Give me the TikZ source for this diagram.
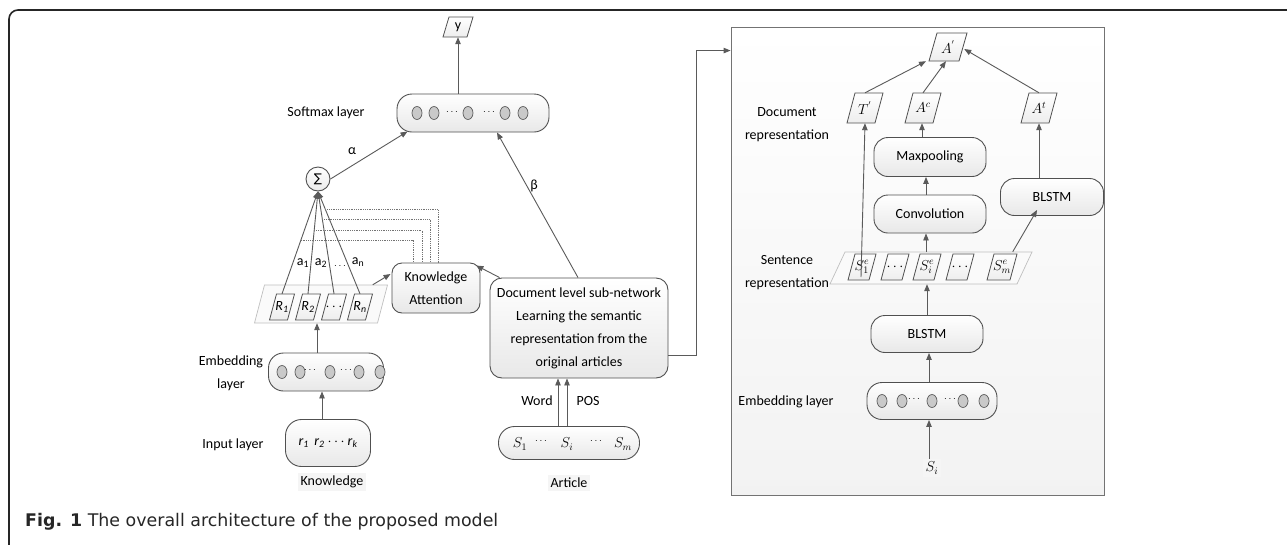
\documentclass[tikz,border=0pt]{standalone}
\usepackage{fontspec}
\setmainfont{Carlito}
\newfontfamily\capfont{DejaVu Sans}
\newfontfamily\symfont{DejaVu Sans}
\usetikzlibrary{shapes.geometric,arrows.meta,calc}

\definecolor{edge}{HTML}{505050}
\definecolor{linec}{HTML}{5A5A5A}
\definecolor{dotfill}{HTML}{C9C9C9}

\tikzset{
  every node/.style={font=\fontsize{14}{23}\selectfont, inner sep=0pt},
  lbl/.style={align=center},
  rbox/.style={draw=edge, line width=0.9pt, rounded corners=#1, top color=white, bottom color=black!9, align=center},
  rbox/.default=12pt,
  pshape/.style={draw=edge, line width=0.8pt, top color=white, bottom color=black!7},
  pgroup/.style={draw=black!25, line width=0.7pt, fill=black!2},
  arr/.style={draw=linec, line width=0.9pt, -{Triangle[length=7pt,width=5.5pt]}},
  dotc/.style={ellipse, draw=black!65, line width=0.7pt, fill=dotfill,
    minimum width=10pt, minimum height=13pt},
  dd/.style={font=\fontsize{10}{10}\selectfont},
  dlink/.style={draw=black!55, line width=0.8pt, densely dotted},
  tag/.style={fill=black!4, inner sep=3pt},
}

% slanted box: [style]{name}{x}{y}{full width}{height}{slant}{text}
\newcommand\pbox[8][pshape]{%
  \path[#1] (#3-#5/2,#4+#6/2) -- (#3+#5/2-#7,#4+#6/2) -- (#3+#5/2,#4-#6/2)
    -- (#3-#5/2+#7,#4-#6/2) -- cycle;
  \node[minimum width=#5-#7, minimum height=#6] (#2) at (#3,#4) {#8};}

\begin{document}
\begin{tikzpicture}[x=1pt, y=-1pt]
\useasboundingbox (0,0) rectangle (1287,544);

% outer frame and caption
\draw[line width=1.6pt, black!85, rounded corners=9pt] (9,545) -- (9,10) -- (1305,10);
\node[anchor=base west, font=\capfont\fontsize{17.4}{20}\selectfont, text=black!85] (cap) at (25,526)
  {\textbf{Fig. 1} The overall architecture of the proposed model};

% ---------------- knowledge branch ----------------
\pbox{yout}{458}{27}{30}{20}{6}{y}
\node[rbox=15pt, minimum width=152pt, minimum height=38pt] (soft) at (473,113) {};
\foreach \i/\x in {1/417,2/434,3/468,4/505,5/523}
  \node[dotc] (sc\i) at (\x,113) {};
\node[dd] (sd1) at (452,112) {$\cdots$};
\node[dd] (sd2) at (489,112) {$\cdots$};
\node[lbl] (softl) at (326,113) {Softmax layer};

\node[circle, draw=edge, line width=0.9pt, minimum size=24pt, top color=white,
  bottom color=black!8] (sig) at (318,179) {\symfont\fontsize{12}{12}\selectfont ∑};
\node (alpha) at (352,151) {α};

\pbox[pgroup]{rgrp}{321}{304}{133}{38}{10}{}
\pbox{r1}{282}{307}{25}{26}{7}{\itshape R\textsubscript{1}}
\pbox{r2}{308}{307}{25}{26}{7}{\itshape R\textsubscript{2}}
\pbox{r3}{334}{307}{25}{26}{7}{$\cdots$}
\pbox{rn}{360}{307}{25}{26}{7}{\itshape R\textsubscript{n}}

\node (a1) at (303,263) {a\textsubscript{1}};
\node (a2) at (321,263) {a\textsubscript{2}};
\node[dd] (a3) at (340,266) {$\cdots$};
\node (an) at (358,262) {a\textsubscript{n}};

\foreach \r in {r1,r2,r3,rn}
  \draw[arr] (\r.north) -- (sig.south);

\node[rbox=10pt, minimum width=88pt, minimum height=50pt] (ka) at (436,288) {Knowledge\\Attention};

% attention feedback lines
\coordinate (d1) at ($(rn.north)!0.825!(sig.south)$);
\coordinate (d2) at ($(r3.north)!0.728!(sig.south)$);
\coordinate (d3) at ($(r2.north)!0.62!(sig.south)$);
\coordinate (d4) at ($(r1.north)!0.524!(sig.south)$);
\draw[dlink] (d1) -| ($(ka.north)+(2,0)$);
\draw[dlink] (d2) -| ($(ka.north)+(-6,0)$);
\draw[dlink] (d3) -| ($(ka.north)+(-14,0)$);
\draw[dlink] (d4) -| ($(ka.north)+(-23,0)$);

\node[rbox=15pt, minimum width=115pt, minimum height=38pt] (embl) at (326,372) {};
\foreach \i/\x in {1/282,2/300,3/330,4/359,5/380}
  \node[dotc] (ec\i) at (\x,372) {};
\node[dd] (ed1) at (310,370) {$\cdots$};
\node[dd] (ed2) at (346,370) {$\cdots$};
\node[lbl] (embll) at (231,373) {Embedding\\layer};

\node[rbox=16pt, minimum width=85pt, minimum height=47pt] (inp) at (328,443)
  {\itshape r\textsubscript{1}\, r\textsubscript{2} \upshape$\cdots$\itshape\ r\textsubscript{k}};
\node[lbl] (inpl) at (233,445) {Input layer};
\node[tag] (know) at (332,482) {Knowledge};

\draw[arr] (sig.east) -- ($(soft.south west)+(11,-1)$);
\draw[arr] ($(soft.north)+(-15,0)$) -- (yout.south);
\coordinate (e1) at ($(embl.north)+(-9,0)$);
\draw[arr] (e1) -- (e1 |- rgrp.south);
\coordinate (i1) at ($(inp.north)+(-6,0)$);
\draw[arr] (i1) -- (i1 |- embl.south);
\draw[arr] ($(rgrp.north east)+(-10,0)$) -- ($(ka.west)+(-1,-14)$);

% ---------------- article branch ----------------
\node[rbox=12pt, minimum width=178pt, minimum height=100pt] (doc) at (579,328)
  {Document level sub-network\\Learning the semantic\\representation from the\\original articles};
\draw[arr] ($(doc.north west)+(10,0)$) -- ($(ka.north east)+(-4,3)$);
\draw[arr] ($(doc.north)+(-1,0)$) -- ($(soft.south)+(24,0)$);
\node (beta) at (534,186) {β};

\node[rbox=16pt, minimum width=141pt, minimum height=33pt] (art) at (569,443) {};
\node (s1) at (520,444) {$S_1$};
\node[dd] (sx1) at (541,441) {$\cdots$};
\node (si) at (567,444) {$S_i$};
\node[dd] (sx2) at (596,441) {$\cdots$};
\node (sm) at (623,444) {$S_m$};
\node[tag] (artl) at (569,483) {Article};

\coordinate (w1) at ($(art.north)+(-11,0)$);
\coordinate (w2) at ($(art.north)+(-2,0)$);
\draw[arr] (w1) -- (w1 |- doc.south);
\draw[arr] (w2) -- (w2 |- doc.south);
\node (word) at (537,401) {Word};
\node (pos) at (588,401) {POS};

% ---------------- document-level sub-network ----------------
\node[draw=black!55, line width=0.9pt, top color=white, bottom color=black!5,
  minimum width=373pt, minimum height=468pt] (panel) at (917.5,261) {};
\coordinate (dout) at ($(doc.east)+(0,27)$);
\coordinate (bend) at ($(dout)+(28,0)$);
\coordinate (pin) at ($(panel.north west)+(0,24)$);
\draw[arr] (dout) -- (bend) |- (pin);

\pbox{aout}{948}{47}{38}{28}{8}{$A^{'}$}
\pbox{tp}{865}{108}{36}{30}{8}{$T^{'}$}
\pbox{ac}{923}{108}{36}{30}{8}{$A^{c}$}
\pbox{at}{1039}{108}{36}{30}{8}{$A^{t}$}
\node[lbl] (docl) at (787,125) {Document\\representation};

\node[rbox=14pt, minimum width=112pt, minimum height=39pt] (mp) at (930,157) {Maxpooling};
\node[rbox=14pt, minimum width=112pt, minimum height=38pt] (conv) at (930,214) {Convolution};
\node[rbox=14pt, minimum width=103pt, minimum height=37pt] (blr) at (1052,197) {BLSTM};

\pbox[pgroup]{sgrp}{931}{268}{202}{32}{15}{}
\pbox{se1}{862}{267}{28}{26}{7}{$S^{e}_{1}$}
\pbox{sex1}{895}{267}{28}{26}{7}{$\cdots$}
\pbox{sei}{927}{267}{28}{26}{7}{$S^{e}_{i}$}
\pbox{sex2}{960}{267}{28}{26}{7}{$\cdots$}
\pbox{sem}{1002}{267}{30}{26}{7}{$S^{e}_{m}$}
\node[lbl] (sentl) at (787,273) {Sentence\\representation};

\node[rbox=14pt, minimum width=112pt, minimum height=37pt] (bll) at (927,334) {BLSTM};
\node[rbox=15pt, minimum width=130pt, minimum height=37pt] (embr) at (932,401) {};
\foreach \i/\x in {1/882,2/902,3/932,4/963,5/984}
  \node[dotc] (rc\i) at (\x,401) {};
\node[dd] (rd1) at (914,399) {$\cdots$};
\node[dd] (rd2) at (950,399) {$\cdots$};
\node[lbl] (embrl) at (786,402) {Embedding layer};
\node[tag] (sin) at (932,468) {$S_i$};

\draw[arr] (tp.north) -- ($(aout.south)+(-22,0)$);
\draw[arr] (ac.north) -- ($(aout.south)+(-2,0)$);
\draw[arr] (at.north) -- ($(aout.east)+(1,2)$);
\draw[arr] ($(se1.center)+(-1,10)$) -- (tp.south);
\coordinate (m1) at ($(mp.north)+(-8,0)$);
\draw[arr] (m1) -- (m1 |- ac.south);
\coordinate (c1) at ($(conv.north)+(-4,0)$);
\draw[arr] (c1) -- (c1 |- mp.south);
\coordinate (b1) at ($(blr.north)+(-13,0)$);
\draw[arr] (b1) -- (b1 |- at.south);
\coordinate (g1) at ($(sgrp.north)+(-5,0)$);
\draw[arr] (g1) -- (g1 |- conv.south);
\draw[arr] ($(sgrp.north east)+(-12,0)$) -- ($(blr.south west)+(37,-6)$);
\coordinate (l1) at ($(bll.north)+(0,0)$);
\draw[arr] (l1) -- (l1 |- sgrp.south);
\coordinate (er1) at ($(embr.north)+(-3,0)$);
\draw[arr] (er1) -- (er1 |- bll.south);
\coordinate (sr1) at ($(sin.north)+(-3,0)$);
\draw[arr] (sr1) -- (sr1 |- embr.south);
\end{tikzpicture}
\end{document}
